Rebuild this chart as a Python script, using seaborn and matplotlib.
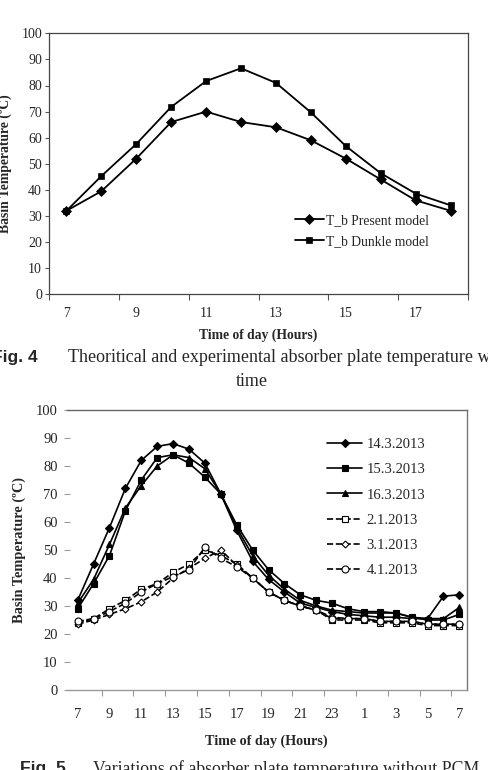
import matplotlib
matplotlib.use("Agg")
import matplotlib.pyplot as plt
import numpy as np
import pandas as pd
import seaborn as sns

# Fig. 4 data: hours 7..18
hours_fig4 = [7, 8, 9, 10, 11, 12, 13, 14, 15, 16, 17, 18]
present_model = [32, 39.5, 52, 66, 70, 66, 64, 59, 52, 44, 36, 32]
dunkle_model = [32, 45.3, 57.6, 71.8, 81.7, 86.6, 81, 69.7, 56.8, 46.4, 38.6, 34.1]

# Fig. 5 data: hourly from 7 to 7 next day (25 points)
hours_fig5 = [7, 8, 9, 10, 11, 12, 13, 14, 15, 16, 17, 18, 19, 20, 21, 22, 23,
              0, 1, 2, 3, 4, 5, 6, 7]
tick_labels_fig5 = ["7", "9", "11", "13", "15", "17", "19", "21", "23", "1", "3", "5", "7"]
d_14_3 = [32, 45, 58, 72, 82, 87, 88, 86, 81, 70, 57, 46, 39.5, 35, 31, 29.5, 28,
          27, 26.5, 26, 26, 25.5, 25.5, 33.5, 34]
d_15_3 = [29, 38, 48, 64, 75, 83, 84, 81, 76, 70, 59, 50, 43, 38, 34, 32, 31,
          29, 28, 28, 27.5, 26, 25, 25, 27]
d_16_3 = [31, 39.5, 52, 65, 73, 80, 84, 83, 79, 70, 58, 48, 41, 36, 32, 30, 28.5,
          28, 27.5, 27.5, 27.5, 26, 25.5, 25.5, 29.5]
d_2_1 = [24, 25.5, 29, 32, 36, 38, 42, 45, 50, 48, 45, 40, 35, 32, 30, 28.5, 25,
         25, 25, 24, 24, 24, 23, 23, 23]
d_3_1 = [23.5, 25, 27, 29, 31.5, 35, 40, 43.5, 47, 50, 44.5, 40, 35, 32, 30, 28.5, 26,
         25.5, 25.5, 24.5, 24.5, 24.5, 23.5, 23.5, 23.5]
d_4_1 = [24.5, 25.5, 28, 31, 35, 38, 40.5, 43, 51, 47, 44, 40, 35, 32, 30, 28.5, 25.5,
         25.5, 25.5, 24.5, 24.5, 24.5, 23.5, 23.5, 23.5]

sns.set_style("white")
plt.rcParams["font.family"] = ["Liberation Serif", "DejaVu Serif"]

W, H = 488, 770
fig = plt.figure(figsize=(W / 100, H / 100), dpi=100)


def fig_axes(left, top, right, bottom):
    return fig.add_axes([left / W, 1 - bottom / H, (right - left) / W, (bottom - top) / H])


# ---------------- Fig. 4 ----------------
ax1 = fig_axes(49, 33.3, 468, 294.3)
df4 = pd.DataFrame({"hour": hours_fig4, "present": present_model, "dunkle": dunkle_model})
sns.lineplot(data=df4, x="hour", y="present", ax=ax1, color="black", lw=1.3,
             marker="D", markersize=5, markeredgecolor="black", mew=0.5,
             label="T_b Present model")
sns.lineplot(data=df4, x="hour", y="dunkle", ax=ax1, color="black", lw=1.3,
             marker="s", markersize=5, markeredgecolor="black", mew=0.5,
             label="T_b Dunkle model")
ax1.set_xlim(6.5, 18.47)
ax1.set_ylim(0, 100)
ax1.set_yticks(np.arange(0, 101, 10))
ax1.set_xticks(np.arange(6.5, 19, 2))
ax1.set_xticklabels([])
ax1.set_xticks([7, 9, 11, 13, 15, 17], minor=True)
ax1.set_xticklabels(["7", "9", "11", "13", "15", "17"], minor=True)
ax1.tick_params(axis="x", which="major", length=4, direction="out", color="#555555", bottom=True)
ax1.tick_params(axis="x", which="minor", length=0, pad=9, labelsize=10, bottom=True)
ax1.tick_params(axis="y", length=3, direction="out", color="#555555", labelsize=10, left=True, pad=2)
for s in ax1.spines.values():
    s.set_color("#444444")
    s.set_linewidth(0.9)
ax1.set_xlabel("Time of day (Hours)", fontweight="bold", fontsize=9.8, labelpad=6)
ax1.set_ylabel("Basin Temperature (ºC)", fontweight="bold", fontsize=9.8)
ax1.yaxis.set_label_coords((12 - 49) / 419, 0.5)
ax1.legend(loc="upper left", bbox_to_anchor=(295 / W, 1 - 214 / H), bbox_transform=fig.transFigure,
           frameon=False, fontsize=9.8, handlelength=2.1, handletextpad=0.2,
           labelspacing=0.6, borderpad=0, borderaxespad=0)

fig.text(-8 / W, 1 - 357.7 / H, "Fig. 4", family=["Liberation Sans", "DejaVu Sans"],
         fontweight="bold", fontsize=12.5, va="center", ha="left")
fig.text(68 / W, 1 - 357.7 / H, "Theoritical and experimental absorber plate temperature with",
         fontsize=13, va="center", ha="left")
fig.text(252 / W, 1 - 381 / H, "time", fontsize=13, va="center", ha="center")

# ---------------- Fig. 5 ----------------
ax2 = fig_axes(66.7, 410, 466.7, 690)
idx = np.arange(len(hours_fig5))
series = [
    ("14.3.2013", d_14_3, "D", "-", "black", 4.5),
    ("15.3.2013", d_15_3, "s", "-", "black", 4.5),
    ("16.3.2013", d_16_3, "^", "-", "black", 5),
    ("2.1.2013", d_2_1, "s", "--", "white", 5),
    ("3.1.2013", d_3_1, "D", "--", "white", 3.5),
    ("4.1.2013", d_4_1, "o", "--", "white", 5),
]
for name, vals, mk, ls, fc, ms in series:
    df5 = pd.DataFrame({"i": idx, "temp": vals})
    sns.lineplot(data=df5, x="i", y="temp", ax=ax2, color="black", lw=1.2, linestyle=ls,
                 marker=mk, markersize=ms, markerfacecolor=fc, markeredgecolor="black",
                 mew=0.8, label=name)
ax2.set_xlim(-0.69, 24.46)
ax2.set_ylim(0, 100)
ax2.set_yticks(np.arange(0, 101, 10))
ax2.set_xticks(np.arange(1.5, 24, 2))
ax2.set_xticklabels([])
ax2.set_xticks(np.arange(0, 25, 2), minor=True)
ax2.set_xticklabels(tick_labels_fig5, minor=True)
ax2.tick_params(axis="x", which="major", length=4, direction="out", color="#999999", bottom=True)
ax2.tick_params(axis="x", which="minor", length=0, pad=13, labelsize=10.5, bottom=True)
ax2.tick_params(axis="y", length=5, direction="inout", color="#999999", labelsize=10.5, left=True, pad=4)
ax2.spines["left"].set_visible(False)
ax2.spines["bottom"].set_color("#999999")
ax2.spines["top"].set_color("#666666")
ax2.spines["right"].set_color("#777777")
for s in ax2.spines.values():
    s.set_linewidth(1.0)
ax2.set_xlabel("Time of day (Hours)", fontweight="bold", fontsize=10.2, labelpad=10)
ax2.set_ylabel("Basin Temperature (ºC)", fontweight="bold", fontsize=10.4)
ax2.yaxis.set_label_coords((26 - 66.7) / 400, 0.5)
ax2.legend(loc="upper left", bbox_to_anchor=(327 / W, 1 - 438 / H), bbox_transform=fig.transFigure,
           frameon=False, fontsize=10.5, handlelength=2.4, handletextpad=0.3,
           labelspacing=0.82, borderpad=0, borderaxespad=0)

fig.text(20 / W, 1 - 769 / H, "Fig. 5", family=["Liberation Sans", "DejaVu Sans"],
         fontweight="bold", fontsize=12.5, va="center", ha="left")
fig.text(93 / W, 1 - 769 / H, "Variations of absorber plate temperature without PCM",
         fontsize=12.8, va="center", ha="left")

fig.savefig("out.png", dpi=100)
